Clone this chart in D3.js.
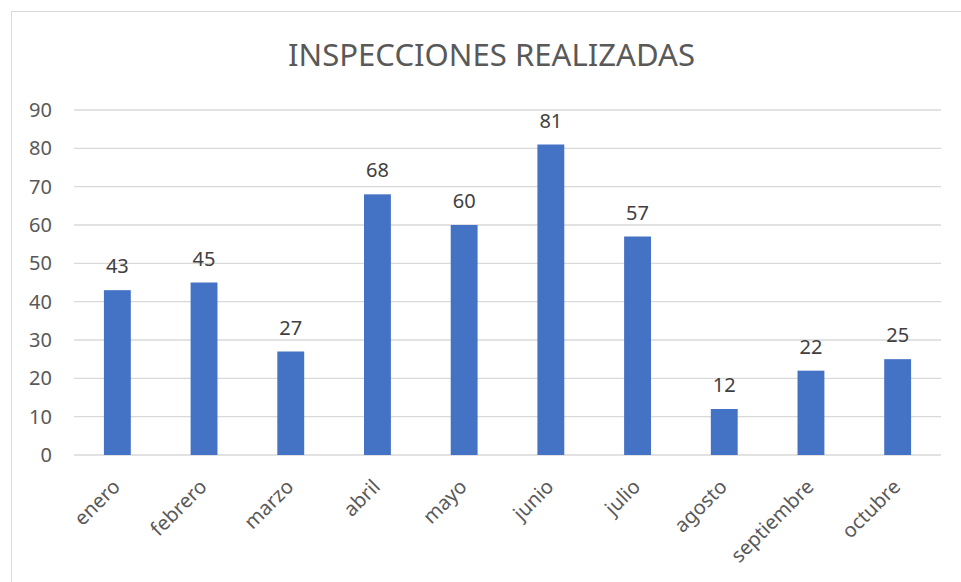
<!DOCTYPE html>
<html>
<head>
<meta charset="utf-8">
<script src="https://cdn.jsdelivr.net/npm/d3@7"></script>
<style>
  body { margin: 0; background: #fff; }
  text { font-family: "Noto Sans", "Open Sans", sans-serif; }
</style>
</head>
<body>
<div id="chart"></div>
<script>
var months = ["enero", "febrero", "marzo", "abril", "mayo", "junio", "julio", "agosto", "septiembre", "octubre"]
var inspections = [43, 45, 27, 68, 60, 81, 57, 12, 22, 25]
var yTicks = [0, 10, 20, 30, 40, 50, 60, 70, 80, 90]

var width = 961, height = 582
var margins = {top: 110, left: 74}
var inner_width = 941 - margins.left
var inner_height = 455 - margins.top

var svg = d3.select("#chart").append("svg")
            .attr("width", width)
            .attr("height", height)

// chart frame (runs off the right and bottom edges)
svg.append("rect")
   .attr("x", 11.5).attr("y", 11.5)
   .attr("width", 970).attr("height", 600)
   .attr("fill", "none")
   .attr("stroke", "#d9d9d9")

svg.append("text")
   .attr("x", 288).attr("y", 66)
   .attr("font-size", 30)
   .attr("fill", "#595959")
   .attr("textLength", 407)
   .attr("lengthAdjust", "spacingAndGlyphs")
   .text("INSPECCIONES REALIZADAS")

var g = svg.append("g")
           .attr("transform", "translate(" + margins.left + "," + margins.top + ")")

var scalex = d3.scaleBand()
               .domain(months)
               .range([0, inner_width])
               .paddingInner(0.69)
               .paddingOuter(0.345)

var scaley = d3.scaleLinear()
               .domain([0, 90])
               .range([inner_height, 0])

// gridlines
g.selectAll("line.grid").data(yTicks)
 .enter().append("line")
 .attr("class", "grid")
 .attr("x1", 0).attr("x2", inner_width)
 .attr("y1", function (d) { return scaley(d) })
 .attr("y2", function (d) { return scaley(d) })
 .attr("stroke", "#d9d9d9")
 .attr("stroke-width", 1.3)

// y axis labels
var yAxis = g.append("g")
             .call(d3.axisLeft(scaley).tickValues(yTicks).tickSize(0).tickPadding(22))
yAxis.select(".domain").remove()
yAxis.selectAll("text")
     .attr("font-size", 20)
     .attr("fill", "#595959")
     .style("font-family", "'Noto Sans', sans-serif")

var data = months.map(function (m, i) { return {month: m, value: inspections[i]} })

g.selectAll("rect.bar").data(data)
 .enter().append("rect")
 .attr("class", "bar")
 .attr("x", function (d) { return scalex(d.month) })
 .attr("y", function (d) { return scaley(d.value) })
 .attr("width", scalex.bandwidth())
 .attr("height", function (d) { return inner_height - scaley(d.value) })
 .attr("fill", "#4472c4")

g.selectAll("text.val").data(data)
 .enter().append("text")
 .attr("class", "val")
 .attr("x", function (d) { return scalex(d.month) + scalex.bandwidth() / 2 })
 .attr("y", function (d) { return scaley(d.value) - 17 })
 .attr("text-anchor", "middle")
 .attr("font-size", 20)
 .attr("fill", "#404040")
 .text(function (d) { return d.value })

// x axis labels, rotated
g.selectAll("text.cat").data(months)
 .enter().append("text")
 .attr("class", "cat")
 .attr("text-anchor", "end")
 .attr("font-size", 20)
 .attr("fill", "#595959")
 .attr("transform", function (d) {
    var x = scalex(d) + scalex.bandwidth() / 2 + 4
    return "translate(" + x + "," + (inner_height + 33) + ") rotate(-45)"
 })
 .text(function (d) { return d })
</script>
</body>
</html>
